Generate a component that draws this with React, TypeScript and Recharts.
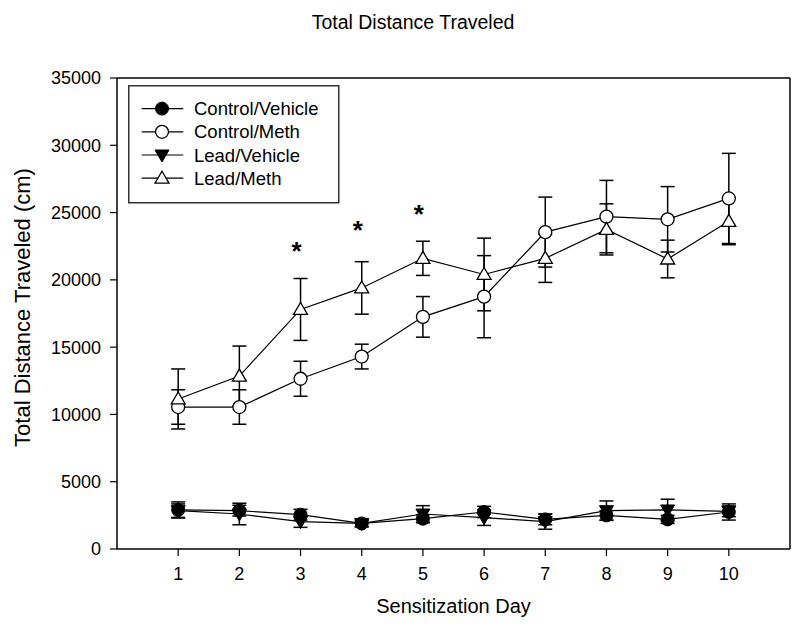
import React from 'react';
import { ComposedChart, Line, XAxis, YAxis, ErrorBar, ReferenceLine, Legend, Label } from 'recharts';

const days = [1, 2, 3, 4, 5, 6, 7, 8, 9, 10];
const controlVehicle = [2900, 2850, 2550, 1900, 2250, 2750, 2200, 2500, 2200, 2750];
const controlVehicleSem = [600, 400, 400, 250, 300, 420, 400, 350, 300, 600];
const leadVehicle = [2850, 2600, 2030, 1900, 2600, 2330, 2030, 2850, 2900, 2800];
const leadVehicleSem = [500, 800, 420, 250, 620, 580, 560, 720, 800, 400];
const controlMeth = [10550, 10550, 12650, 14300, 17250, 18750, 23550, 24700, 24500, 26050];
const controlMethSem = [1280, 1280, 1300, 920, 1510, 3050, 2600, 2690, 2430, 3350];
const leadMeth = [11150, 12850, 17800, 19400, 21600, 20400, 21600, 23750, 21550, 24350];
const leadMethSem = [2230, 2230, 2300, 1950, 1270, 2700, 1790, 1900, 1400, 1740];
const starValues: (number | null)[] = [null, null, 22500, 24050, 25300, null, null, null, null, null];
const yTicks = [0, 5000, 10000, 15000, 20000, 25000, 30000, 35000];
const xTicks = days;
const seriesNames = ['Control/Vehicle', 'Control/Meth', 'Lead/Vehicle', 'Lead/Meth'];

const data = days.map((d, i) => ({
  day: d,
  cv: controlVehicle[i],
  cvErr: controlVehicleSem[i],
  lv: leadVehicle[i],
  lvErr: leadVehicleSem[i],
  cm: controlMeth[i],
  cmErr: controlMethSem[i],
  lm: leadMeth[i],
  lmErr: leadMethSem[i],
  star: starValues[i],
}));

const FONT = "'Liberation Sans', Arial, sans-serif";

function markerShape(kind: string, cx: number, cy: number, key?: any) {
  if (kind === 'Control/Vehicle') {
    return <circle key={key} cx={cx} cy={cy} r={6.5} fill="#000" stroke="#000" strokeWidth={1} />;
  }
  if (kind === 'Control/Meth') {
    return <circle key={key} cx={cx} cy={cy} r={6.5} fill="#fff" stroke="#000" strokeWidth={1.3} />;
  }
  if (kind === 'Lead/Vehicle') {
    const p = `${cx - 7},${cy - 5} ${cx + 7},${cy - 5} ${cx},${cy + 7}`;
    return <polygon key={key} points={p} fill="#000" stroke="#000" strokeWidth={1} />;
  }
  const p = `${cx - 7},${cy + 5} ${cx + 7},${cy + 5} ${cx},${cy - 7}`;
  return <polygon key={key} points={p} fill="#fff" stroke="#000" strokeWidth={1.3} />;
}

const makeDot = (kind: string) => (props: any) => {
  const { cx, cy, index } = props;
  if (cx == null || cy == null || isNaN(cx) || isNaN(cy)) return <g key={`e-${kind}-${index}`} />;
  return markerShape(kind, cx, cy, `${kind}-${index}`);
};

const starDot = (props: any) => {
  const { cx, cy, index, value } = props;
  if (value == null || cx == null || cy == null || isNaN(cy)) return <g key={`s-${index}`} />;
  return (
    <text key={`s-${index}`} x={cx - 4} y={cy + 14} textAnchor="middle" fontSize={26} fontWeight="bold" fontFamily={FONT} fill="#000">
      *
    </text>
  );
};

const LegendBox = () => (
  <svg width={212} height={119} style={{ display: 'block' }}>
    <rect x={0.75} y={0.75} width={210} height={117} fill="#fff" stroke="#333" strokeWidth={1.5} />
    {seriesNames.map((n, i) => {
      const y = 23.6 + i * 23.2;
      return (
        <g key={n}>
          <line x1={13.7} x2={55.3} y1={y} y2={y} stroke="#000" strokeWidth={1.2} />
          {markerShape(n, 34, y)}
          <text x={66} y={y + 6.6} fontSize={18.5} fontFamily={FONT} fill="#000">
            {n}
          </text>
        </g>
      );
    })}
  </svg>
);

const YTitle = (props: any) => {
  const vb = props.viewBox || { x: 0, y: 78, width: 117, height: 471 };
  const cx = vb.x + 22;
  const cy = vb.y + vb.height / 2 - 6;
  return (
    <text
      transform={`translate(${cx},${cy}) rotate(-90)`}
      textAnchor="middle"
      dominantBaseline="central"
      fontSize={22}
      fontFamily={FONT}
      fill="#000"
    >
      Total Distance Traveled (cm)
    </text>
  );
};

export default function App() {
  const axisStyle = { stroke: '#000', strokeWidth: 1.5 };
  const tickStyle = { fill: '#000', fontSize: 18, fontFamily: FONT };
  return (
    <div style={{ position: 'absolute', left: 0, top: 0, width: 800, height: 638, background: '#fff', fontFamily: FONT }}>
      <div
        style={{
          position: 'absolute',
          left: 0,
          top: 12,
          width: 826,
          textAlign: 'center',
          fontSize: 19.5,
          lineHeight: '20px',
          color: '#000',
          fontFamily: FONT,
        }}
      >
        Total Distance Traveled
      </div>
      <ComposedChart width={800} height={638} data={data} margin={{ top: 78, right: 10, left: 0, bottom: 39 }}>
        <XAxis
          type="number"
          dataKey="day"
          domain={[0, 11]}
          ticks={xTicks}
          interval={0}
          height={50}
          tickSize={7}
          tickMargin={11}
          axisLine={axisStyle}
          tickLine={{ stroke: '#000', strokeWidth: 1.2 }}
          tick={tickStyle}
        >
          <Label value="Sensitization Day" position="bottom" offset={0} fontSize={20} fill="#000" fontFamily={FONT} />
        </XAxis>
        <YAxis
          type="number"
          domain={[0, 35000]}
          ticks={yTicks}
          interval={0}
          width={117}
          tickSize={7}
          tickMargin={9}
          axisLine={axisStyle}
          tickLine={{ stroke: '#000', strokeWidth: 1.2 }}
          tick={tickStyle}
        >
          <Label position="insideLeft" content={YTitle} />
        </YAxis>
        <ReferenceLine y={35000} stroke="#000" strokeWidth={1.5} />
        <ReferenceLine x={11} stroke="#000" strokeWidth={1.5} />
        <Line dataKey="cv" name="Control/Vehicle" stroke="#000" strokeWidth={1.2} isAnimationActive={false} dot={makeDot('Control/Vehicle')} activeDot={false}>
          <ErrorBar dataKey="cvErr" width={7} stroke="#000" strokeWidth={1.5} direction="y" />
        </Line>
        <Line dataKey="lv" name="Lead/Vehicle" stroke="#000" strokeWidth={1.2} isAnimationActive={false} dot={makeDot('Lead/Vehicle')} activeDot={false}>
          <ErrorBar dataKey="lvErr" width={7} stroke="#000" strokeWidth={1.5} direction="y" />
        </Line>
        <Line dataKey="cm" name="Control/Meth" stroke="#000" strokeWidth={1.2} isAnimationActive={false} dot={makeDot('Control/Meth')} activeDot={false}>
          <ErrorBar dataKey="cmErr" width={7} stroke="#000" strokeWidth={1.5} direction="y" />
        </Line>
        <Line dataKey="lm" name="Lead/Meth" stroke="#000" strokeWidth={1.2} isAnimationActive={false} dot={makeDot('Lead/Meth')} activeDot={false}>
          <ErrorBar dataKey="lmErr" width={7} stroke="#000" strokeWidth={1.5} direction="y" />
        </Line>
        <Line dataKey="star" stroke="none" isAnimationActive={false} dot={starDot} activeDot={false} legendType="none" />
        <Legend
          layout="vertical"
          align="center"
          verticalAlign="middle"
          content={() => <LegendBox />}
          wrapperStyle={{ position: 'absolute', left: 128, top: 85, width: 212, height: 119 }}
        />
      </ComposedChart>
    </div>
  );
}
